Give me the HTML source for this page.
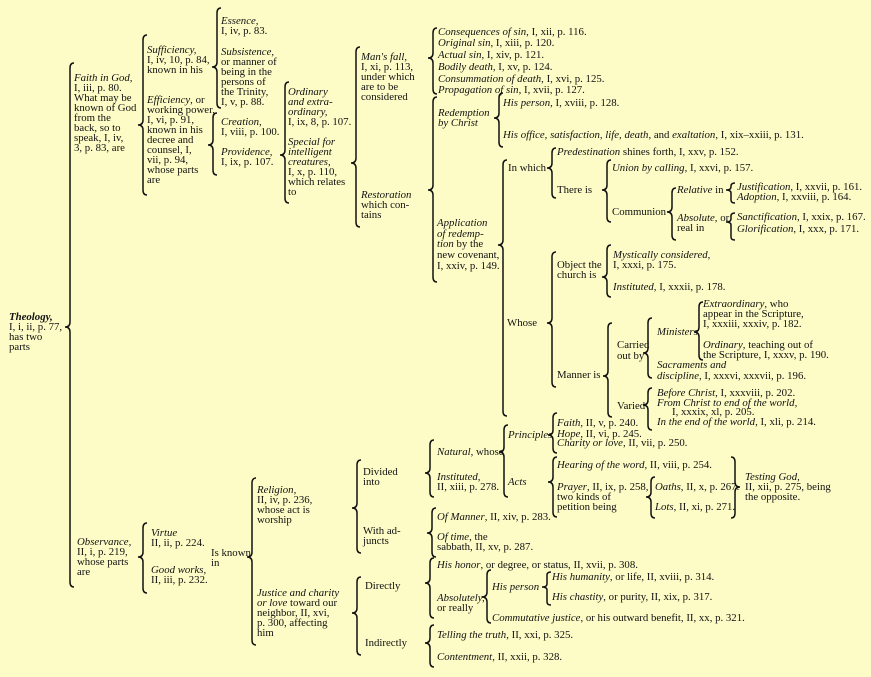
<!DOCTYPE html>
<html><head><meta charset="utf-8"><style>
html,body{margin:0;padding:0}
body{width:871px;height:677px;background:#fdfcc6;position:relative;overflow:hidden;font-family:"Liberation Serif",serif;font-size:10.8px;color:#111}
.t{position:absolute;line-height:10px;white-space:nowrap}
i{font-style:italic}
svg{position:absolute;left:0;top:0}
</style></head><body>
<svg width="871" height="677" fill="none" stroke="#111" stroke-width="1.5">
<path d="M74,63 Q70,63 70,68 V322 Q70,327 65,327 Q70,327 70,332 V582 Q70,587 74,587"/>
<path d="M147,35 Q143,35 143,40 V120 Q143,125 138,125 Q143,125 143,130 V190 Q143,195 147,195"/>
<path d="M221,8 Q217,8 217,13 V62 Q217,67 212,67 Q217,67 217,72 V103 Q217,108 221,108"/>
<path d="M217,113 Q213,113 213,118 V140 Q213,145 208,145 Q213,145 213,150 V170 Q213,175 217,175"/>
<path d="M289,82 Q285,82 285,87 V150 Q285,155 280,155 Q285,155 285,160 V198 Q285,203 289,203"/>
<path d="M360,47 Q356,47 356,52 V158 Q356,163 351,163 Q356,163 356,168 V222 Q356,227 360,227"/>
<path d="M437,28 Q433,28 433,33 V53 Q433,58 428,58 Q433,58 433,63 V89 Q433,94 437,94"/>
<path d="M437,97 Q433,97 433,102 V185 Q433,190 428,190 Q433,190 433,195 V277 Q433,282 437,282"/>
<path d="M503,93 Q499,93 499,98 V113 Q499,118 494,118 Q499,118 499,123 V142 Q499,147 503,147"/>
<path d="M507,160 Q503,160 503,165 V240 Q503,245 498,245 Q503,245 503,250 V411 Q503,416 507,416"/>
<path d="M556,148 Q552,148 552,153 V163 Q552,168 547,168 Q552,168 552,173 V193 Q552,198 556,198"/>
<path d="M611,160 Q607,160 607,165 V185 Q607,190 602,190 Q607,190 607,195 V217 Q607,222 611,222"/>
<path d="M676,188 Q672,188 672,193 V207 Q672,212 667,212 Q672,212 672,217 V235 Q672,240 676,240"/>
<path d="M735,183 Q731,183 731,186 V187 Q731,190 726,190 Q731,190 731,193 V200 Q731,203 735,203"/>
<path d="M735,213 Q731,213 731,216 V219 Q731,222 726,222 Q731,222 731,225 V237 Q731,240 735,240"/>
<path d="M556,252 Q552,252 552,257 V318 Q552,323 547,323 Q552,323 552,328 V382 Q552,387 556,387"/>
<path d="M611,245 Q607,245 607,250 V272 Q607,277 602,277 Q607,277 607,282 V292 Q607,297 611,297"/>
<path d="M612,323 Q608,323 608,328 V371 Q608,376 603,376 Q608,376 608,381 V412 Q608,417 612,417"/>
<path d="M652,318 Q648,318 648,323 V348 Q648,353 643,353 Q648,353 648,358 V373 Q648,378 652,378"/>
<path d="M703,302 Q699,302 699,307 V327 Q699,332 694,332 Q699,332 699,337 V355 Q699,360 703,360"/>
<path d="M652,388 Q648,388 648,393 V400 Q648,405 643,405 Q648,405 648,410 V425 Q648,430 652,430"/>
<path d="M147,523 Q143,523 143,528 V552 Q143,557 138,557 Q143,557 143,562 V588 Q143,593 147,593"/>
<path d="M256,478 Q252,478 252,483 V552 Q252,557 247,557 Q252,557 252,562 V640 Q252,645 256,645"/>
<path d="M361,460 Q357,460 357,465 V503 Q357,508 352,508 Q357,508 357,513 V548 Q357,553 361,553"/>
<path d="M361,577 Q357,577 357,582 V608 Q357,613 352,613 Q357,613 357,618 V650 Q357,655 361,655"/>
<path d="M434,440 Q430,440 430,445 V468 Q430,473 425,473 Q430,473 430,478 V492 Q430,497 434,497"/>
<path d="M508,425 Q504,425 504,430 V447 Q504,452 499,452 Q504,452 504,457 V492 Q504,497 508,497"/>
<path d="M557,413 Q553,413 553,418 V430 Q553,435 548,435 Q553,435 553,440 V448 Q553,453 557,453"/>
<path d="M557,457 Q553,457 553,462 V477 Q553,482 548,482 Q553,482 553,487 V512 Q553,517 557,517"/>
<path d="M655,477 Q651,477 651,482 V492 Q651,497 646,497 Q651,497 651,502 V513 Q651,518 655,518"/>
<path d="M731,457 Q735,457 735,462 V482 Q735,487 740,487 Q735,487 735,492 V513 Q735,518 731,518"/>
<path d="M436,508 Q432,508 432,513 V528 Q432,533 427,533 Q432,533 432,538 V552 Q432,557 436,557"/>
<path d="M434,558 Q430,558 430,563 V578 Q430,583 425,583 Q430,583 430,588 V613 Q430,618 434,618"/>
<path d="M491,570 Q487,570 487,575 V592 Q487,597 482,597 Q487,597 487,602 V618 Q487,623 491,623"/>
<path d="M551,572 Q547,572 547,575 V584 Q547,587 542,587 Q547,587 547,590 V602 Q547,605 551,605"/>
<path d="M434,625 Q430,625 430,630 V638 Q430,643 425,643 Q430,643 430,648 V662 Q430,667 434,667"/>
</svg>

<div class="t" style="left:9px;top:312px"><i><b>Theology,</b></i><br>I, i, ii, p. 77,<br>has two<br>parts</div>
<div class="t" style="left:74px;top:73px"><i>Faith in God,</i><br>I, iii, p. 80.<br>What may be<br>known of God<br>from the<br>back, so to<br>speak, I, iv,<br>3, p. 83, are</div>
<div class="t" style="left:147px;top:45px"><i>Sufficiency,</i><br>I, iv, 10, p. 84,<br>known in his</div>
<div class="t" style="left:147px;top:95px"><i>Efficiency</i>, or<br>working power,<br>I, vi, p. 91,<br>known in his<br>decree and<br>counsel, I,<br>vii, p. 94,<br>whose parts<br>are</div>
<div class="t" style="left:221px;top:16px"><i>Essence,</i><br>I, iv, p. 83.</div>
<div class="t" style="left:221px;top:47px"><i>Subsistence,</i><br>or manner of<br>being in the<br>persons of<br>the Trinity,<br>I, v, p. 88.</div>
<div class="t" style="left:221px;top:117px"><i>Creation,</i><br>I, viii, p. 100.</div>
<div class="t" style="left:221px;top:147px"><i>Providence,</i><br>I, ix, p. 107.</div>
<div class="t" style="left:288px;top:87px"><i>Ordinary<br>and extra-<br>ordinary,</i><br>I, ix, 8, p. 107.</div>
<div class="t" style="left:288px;top:137px"><i>Special for<br>intelligent<br>creatures,</i><br>I, x, p. 110,<br>which relates<br>to</div>
<div class="t" style="left:361px;top:52px"><i>Man's fall,</i><br>I, xi, p. 113,<br>under which<br>are to be<br>considered</div>
<div class="t" style="left:361px;top:190px"><i>Restoration</i><br>which con-<br>tains</div>

<div class="t" style="left:438px;top:27px"><i>Consequences of sin</i>, I, xii, p. 116.</div>
<div class="t" style="left:438px;top:38px"><i>Original sin</i>, I, xiii, p. 120.</div>
<div class="t" style="left:438px;top:50px"><i>Actual sin</i>, I, xiv, p. 121.</div>
<div class="t" style="left:438px;top:62px"><i>Bodily death</i>, I, xv, p. 124.</div>
<div class="t" style="left:438px;top:74px"><i>Consummation of death</i>, I, xvi, p. 125.</div>
<div class="t" style="left:438px;top:85px"><i>Propagation of sin</i>, I, xvii, p. 127.</div>
<div class="t" style="left:438px;top:108px"><i>Redemption<br>by Christ</i></div>
<div class="t" style="left:503px;top:98px"><i>His person</i>, I, xviii, p. 128.</div>
<div class="t" style="left:503px;top:130px"><i>His office, satisfaction, life, death</i>, and <i>exaltation</i>, I, xix–xxiii, p. 131.</div>
<div class="t" style="left:437px;top:218px;line-height:10.7px"><i>Application<br>of redemp-<br>tion</i> by the<br>new covenant,<br>I, xxiv, p. 149.</div>
<div class="t" style="left:508px;top:163px">In which</div>
<div class="t" style="left:557px;top:147px"><i>Predestination</i> shines forth, I, xxv, p. 152.</div>
<div class="t" style="left:557px;top:185px">There is</div>
<div class="t" style="left:612px;top:163px"><i>Union by calling</i>, I, xxvi, p. 157.</div>
<div class="t" style="left:612px;top:207px">Communion</div>
<div class="t" style="left:677px;top:185px"><i>Relative</i> in</div>
<div class="t" style="left:677px;top:213px"><i>Absolute</i>, or<br>real in</div>
<div class="t" style="left:737px;top:182px"><i>Justification</i>, I, xxvii, p. 161.</div>
<div class="t" style="left:737px;top:192px"><i>Adoption</i>, I, xxviii, p. 164.</div>
<div class="t" style="left:737px;top:212px"><i>Sanctification</i>, I, xxix, p. 167.</div>
<div class="t" style="left:737px;top:224px"><i>Glorification</i>, I, xxx, p. 171.</div>
<div class="t" style="left:507px;top:318px">Whose</div>
<div class="t" style="left:557px;top:260px">Object the<br>church is</div>
<div class="t" style="left:613px;top:250px"><i>Mystically considered,</i><br>I, xxxi, p. 175.</div>
<div class="t" style="left:613px;top:282px"><i>Instituted</i>, I, xxxii, p. 178.</div>
<div class="t" style="left:557px;top:370px">Manner is</div>
<div class="t" style="left:617px;top:340px;line-height:11px">Carried<br>out by</div>
<div class="t" style="left:657px;top:327px"><i>Ministers</i></div>
<div class="t" style="left:703px;top:299px"><i>Extraordinary</i>, who<br>appear in the Scripture,<br>I, xxxiii, xxxiv, p. 182.</div>
<div class="t" style="left:703px;top:340px"><i>Ordinary</i>, teaching out of<br>the Scripture, I, xxxv, p. 190.</div>
<div class="t" style="left:657px;top:360px;line-height:11px"><i>Sacraments and<br>discipline</i>, I, xxxvi, xxxvii, p. 196.</div>
<div class="t" style="left:617px;top:401px">Varied</div>
<div class="t" style="left:657px;top:388px"><i>Before Christ</i>, I, xxxviii, p. 202.</div>
<div class="t" style="left:657px;top:398px"><i>From Christ to end of the world,</i></div>
<div class="t" style="left:672px;top:407px">I, xxxix, xl, p. 205.</div>
<div class="t" style="left:657px;top:417px"><i>In the end of the world</i>, I, xli, p. 214.</div>

<div class="t" style="left:77px;top:537px"><i>Observance,</i><br>II, i, p. 219,<br>whose parts<br>are</div>
<div class="t" style="left:151px;top:528px"><i>Virtue</i><br>II, ii, p. 224.</div>
<div class="t" style="left:151px;top:565px"><i>Good works,</i><br>II, iii, p. 232.</div>
<div class="t" style="left:211px;top:548px">Is known<br>in</div>
<div class="t" style="left:257px;top:485px"><i>Religion,</i><br>II, iv, p. 236,<br>whose act is<br>worship</div>
<div class="t" style="left:257px;top:588px"><i>Justice and charity<br>or love</i> toward our<br>neighbor, II, xvi,<br>p. 300, affecting<br>him</div>
<div class="t" style="left:363px;top:467px">Divided<br>into</div>
<div class="t" style="left:363px;top:526px">With ad-<br>juncts</div>
<div class="t" style="left:365px;top:581px">Directly</div>
<div class="t" style="left:365px;top:638px">Indirectly</div>
<div class="t" style="left:437px;top:447px"><i>Natural</i>, whose</div>
<div class="t" style="left:437px;top:472px"><i>Instituted,</i><br>II, xiii, p. 278.</div>
<div class="t" style="left:508px;top:430px"><i>Principles</i></div>
<div class="t" style="left:508px;top:477px"><i>Acts</i></div>
<div class="t" style="left:557px;top:418px"><i>Faith</i>, II, v, p. 240.</div>
<div class="t" style="left:557px;top:429px"><i>Hope</i>, II, vi, p. 245.</div>
<div class="t" style="left:557px;top:438px"><i>Charity or love</i>, II, vii, p. 250.</div>
<div class="t" style="left:557px;top:460px"><i>Hearing of the word</i>, II, viii, p. 254.</div>
<div class="t" style="left:557px;top:482px"><i>Prayer</i>, II, ix, p. 258,<br>two kinds of<br>petition being</div>
<div class="t" style="left:655px;top:482px"><i>Oaths</i>, II, x, p. 267.</div>
<div class="t" style="left:655px;top:502px"><i>Lots</i>, II, xi, p. 271.</div>
<div class="t" style="left:745px;top:472px"><i>Testing God,</i><br>II, xii, p. 275, being<br>the opposite.</div>
<div class="t" style="left:437px;top:512px"><i>Of Manner</i>, II, xiv, p. 283.</div>
<div class="t" style="left:437px;top:532px"><i>Of time</i>, the<br>sabbath, II, xv, p. 287.</div>
<div class="t" style="left:437px;top:560px"><i>His honor</i>, or degree, or status, II, xvii, p. 308.</div>
<div class="t" style="left:437px;top:593px"><i>Absolutely,</i><br>or really</div>
<div class="t" style="left:492px;top:582px"><i>His person</i></div>
<div class="t" style="left:492px;top:613px"><i>Commutative justice</i>, or his outward benefit, II, xx, p. 321.</div>
<div class="t" style="left:552px;top:572px"><i>His humanity</i>, or life, II, xviii, p. 314.</div>
<div class="t" style="left:552px;top:592px"><i>His chastity</i>, or purity, II, xix, p. 317.</div>
<div class="t" style="left:437px;top:630px"><i>Telling the truth</i>, II, xxi, p. 325.</div>
<div class="t" style="left:437px;top:652px"><i>Contentment</i>, II, xxii, p. 328.</div>
</body></html>
